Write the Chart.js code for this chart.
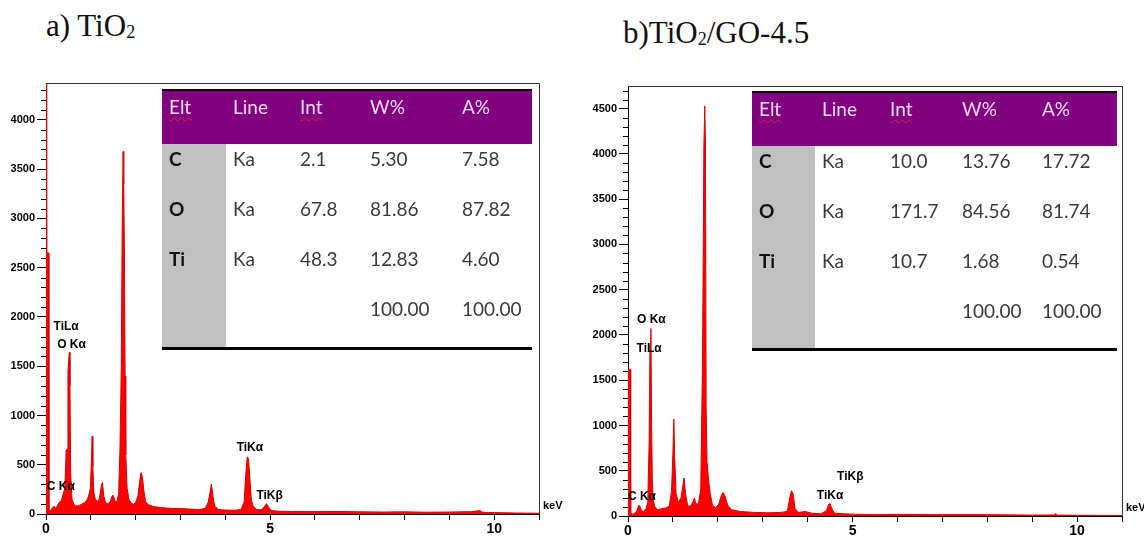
<!DOCTYPE html>
<html>
<head>
<meta charset="utf-8">
<script src="https://cdn.jsdelivr.net/npm/chart.js@4.4.1/dist/chart.umd.min.js"></script>
<style>
html, body { margin: 0; padding: 0; background: #fff; }
body { width: 1144px; height: 539px; position: relative; overflow: hidden; }
.panel { position: absolute; top: 0; width: 572px; height: 539px; }
.title { position: absolute; font-family: "Liberation Serif", "Times New Roman", serif; font-size: 31px; line-height: 31px; color: #111; white-space: nowrap; }
.title sub { font-size: 18px; vertical-align: -2px; line-height: 0; }
.eds { position: absolute; font-family: Lato, "Open Sans", sans-serif; font-size: 19px; line-height: 22px; color: #3a3a3a; border-top: 2px solid #000; border-bottom: 3px solid #000; }
.eds .row { display: flex; box-sizing: border-box; }
.eds .cell { box-sizing: border-box; height: 100%; padding-left: 7px; white-space: nowrap; }
.eds .head { background: #800080; color: #f4dcf4; }
.eds .head .cell { padding-top: 5px; }
.eds .body .cell { padding-top: 4px; }
.eds .body .cell:first-child { background: #c0c0c0; color: #111; font-weight: bold; }
.eds .spell { text-decoration: underline wavy #e0203a; text-decoration-thickness: 1px; text-underline-offset: 3px; }
</style>
</head>
<body>
<div class="title" style="left:46px; top:10px;">a) TiO<sub>2</sub></div>
<div class="title" style="left:623px; top:17px;">b)TiO<sub>2</sub>/GO-4.5</div>
<div class="panel" style="left:0;"><canvas id="tio2Chart" width="572" height="539"></canvas></div>
<div class="panel" style="left:572px;"><canvas id="goChart" width="572" height="539"></canvas></div>
<div id="tio2Table" class="eds"></div>
<div id="goTable" class="eds"></div>
<script>
// Phổ EDS của TiO2 (năng lượng keV, số đếm)
const tio2Energy = [0, 0.015, 0.055, 0.065, 0.10, 0.14, 0.18, 0.22, 0.26, 0.30, 0.34, 0.38, 0.42, 0.45, 0.47, 0.49, 0.52, 0.535, 0.55, 0.58, 0.62, 0.66, 0.70, 0.75, 0.80, 0.85, 0.90, 0.95, 0.99, 1.01, 1.03, 1.045, 1.07, 1.10, 1.14, 1.18, 1.21, 1.24, 1.26, 1.29, 1.33, 1.38, 1.43, 1.47, 1.50, 1.54, 1.58, 1.62, 1.65, 1.68, 1.70, 1.72, 1.735, 1.75, 1.765, 1.78, 1.81, 1.85, 1.90, 1.95, 2.00, 2.05, 2.09, 2.12, 2.15, 2.18, 2.22, 2.28, 2.40, 2.55, 2.70, 2.85, 3.00, 3.20, 3.40, 3.55, 3.62, 3.66, 3.69, 3.72, 3.76, 3.85, 4.00, 4.20, 4.35, 4.42, 4.46, 4.49, 4.52, 4.55, 4.58, 4.62, 4.70, 4.80, 4.87, 4.92, 4.96, 5.02, 5.20, 5.50, 6.00, 6.50, 7.00, 7.50, 8.00, 8.50, 9.00, 9.50, 9.68, 9.73, 9.80, 10.00, 10.50, 11.00];
const tio2Counts = [5000, 2650, 2650, 25, 35, 60, 80, 55, 90, 120, 130, 200, 260, 650, 660, 1450, 1640, 1300, 420, 150, 100, 85, 80, 90, 100, 115, 130, 180, 260, 500, 790, 480, 210, 150, 130, 140, 210, 300, 320, 180, 115, 105, 120, 180, 190, 130, 125, 200, 650, 1500, 2900, 3680, 3350, 2600, 1400, 600, 260, 150, 110, 100, 115, 180, 330, 420, 380, 250, 130, 95, 75, 65, 60, 55, 55, 50, 45, 55, 120, 220, 305, 200, 80, 45, 40, 38, 45, 120, 420, 580, 560, 360, 150, 80, 45, 42, 70, 105, 75, 35, 28, 25, 24, 26, 22, 20, 22, 18, 20, 24, 35, 20, 15, 14, 10, 8];

// Phổ EDS của TiO2/GO-4.5
const goEnergy = [0, 0.05, 0.06, 0.10, 0.15, 0.20, 0.24, 0.27, 0.30, 0.35, 0.40, 0.44, 0.47, 0.49, 0.51, 0.525, 0.54, 0.56, 0.59, 0.65, 0.75, 0.85, 0.92, 0.97, 1.00, 1.02, 1.04, 1.07, 1.12, 1.18, 1.22, 1.25, 1.28, 1.33, 1.40, 1.45, 1.48, 1.51, 1.57, 1.62, 1.66, 1.69, 1.71, 1.725, 1.74, 1.76, 1.79, 1.83, 1.88, 1.95, 2.02, 2.08, 2.12, 2.16, 2.22, 2.30, 2.50, 2.80, 3.10, 3.40, 3.55, 3.60, 3.64, 3.68, 3.72, 3.80, 3.95, 4.10, 4.30, 4.42, 4.47, 4.50, 4.54, 4.60, 4.80, 5.00, 5.50, 6.00, 7.00, 8.00, 9.00, 9.48, 9.52, 9.56, 10.00, 11.00];
const goCounts = [1620, 1620, 30, 20, 30, 60, 120, 100, 60, 50, 80, 150, 800, 1900, 2070, 1050, 420, 200, 110, 70, 80, 90, 110, 280, 700, 1070, 650, 250, 150, 200, 330, 420, 250, 110, 110, 160, 200, 130, 140, 300, 1750, 4100, 4530, 4100, 1200, 600, 420, 250, 120, 90, 130, 230, 260, 220, 120, 70, 50, 40, 35, 40, 50, 200, 280, 240, 80, 40, 50, 30, 25, 60, 130, 135, 80, 30, 25, 20, 15, 18, 15, 15, 10, 12, 25, 10, 8, 5];

// Nhãn vạch phổ (tên, vị trí keV, số đếm)
const tio2PeakNames = ['TiLα', 'O Kα', 'C Kα', 'TiKα', 'TiKβ'];
const tio2PeakKeV = [0.45, 0.57, 0.33, 4.55, 4.99];
const tio2PeakCounts = [1900, 1720, 277, 673, 186];
const goPeakNames = ['O Kα', 'TiLα', 'C Kα', 'TiKβ', 'TiKα'];
const goPeakKeV = [0.52, 0.47, 0.31, 4.95, 4.5];
const goPeakCounts = [2168, 1847, 210, 431, 221];

// Nhãn trục
const xTickLabels = [0, 5, 10];
const yLabelStep = 500;
const xUnit = 'keV';

// Bảng định lượng
const tableHeaders = ['Elt', 'Line', 'Int', 'W%', 'A%'];
const tableElements = ['C', 'O', 'Ti'];
const tableLines = ['Ka', 'Ka', 'Ka'];
const tio2Int = [2.1, 67.8, 48.3];
const tio2Wt = [5.30, 81.86, 12.83];
const tio2At = [7.58, 87.82, 4.60];
const goInt = [10.0, 171.7, 10.7];
const goWt = [13.76, 84.56, 1.68];
const goAt = [17.72, 81.74, 0.54];
const totalWt = 100.00;
const totalAt = 100.00;

const axisFont = '"Liberation Sans", Arial, sans-serif';
Chart.defaults.font.family = axisFont;

// Plugin vẽ khung, vạch phụ, nhãn đỉnh và đơn vị keV
const edsDecor = {
    id: 'edsDecor',
    afterDraw(chart, args, opts) {
        const { ctx, chartArea: a, scales } = chart;
        ctx.save();
        // khung trên và phải
        ctx.strokeStyle = '#333';
        ctx.lineWidth = 1;
        ctx.beginPath();
        ctx.moveTo(a.left, a.top + 0.5);
        ctx.lineTo(a.right + 0.5, a.top + 0.5);
        ctx.lineTo(a.right + 0.5, a.bottom);
        ctx.stroke();
        // vạch phụ trục y
        ctx.strokeStyle = '#000';
        ctx.beginPath();
        scales.y.ticks.forEach(t => {
            if (t.value % yLabelStep !== 0) {
                const py = Math.round(scales.y.getPixelForValue(t.value)) + 0.5;
                ctx.moveTo(a.left - 5, py);
                ctx.lineTo(a.left, py);
            }
        });
        ctx.stroke();
        // nhãn các vạch phổ
        ctx.fillStyle = '#000';
        ctx.font = 'bold 12px ' + axisFont;
        ctx.textAlign = 'center';
        ctx.textBaseline = 'middle';
        opts.names.forEach((name, i) => {
            ctx.fillText(name, scales.x.getPixelForValue(opts.keV[i]), scales.y.getPixelForValue(opts.counts[i]));
        });
        // đơn vị trục x
        ctx.textAlign = 'left';
        ctx.font = 'bold 11px ' + axisFont;
        ctx.fillText(xUnit, a.right + 4, a.bottom - 8);
        ctx.restore();
    }
};

function initializeSpectrum(canvasId, energy, counts, yMax, layout, peaks) {
    const ctx = document.getElementById(canvasId).getContext('2d');
    return new Chart(ctx, {
        type: 'line',
        data: {
            datasets: [{
                data: energy.map((e, i) => ({ x: e, y: counts[i] })),
                borderColor: '#d80000',
                backgroundColor: '#ff0000',
                borderWidth: 1,
                pointRadius: 0,
                tension: 0,
                fill: 'origin'
            }]
        },
        options: {
            responsive: false,
            animation: false,
            layout: { padding: { left: 0, top: layout.top, right: layout.right, bottom: 0 } },
            plugins: {
                legend: { display: false },
                tooltip: { enabled: false },
                edsDecor: peaks
            },
            scales: {
                x: {
                    type: 'linear',
                    min: 0,
                    max: 11,
                    ticks: {
                        stepSize: 1,
                        autoSkip: false,
                        maxRotation: 0,
                        padding: 1,
                        color: '#000',
                        font: { size: 14, weight: 'bold' },
                        callback: v => xTickLabels.includes(v) ? String(v) : ''
                    },
                    grid: { drawOnChartArea: false, tickLength: 6, tickColor: '#000' },
                    border: { color: '#000', width: 1 },
                    afterFit: s => { s.height = layout.xHeight; }
                },
                y: {
                    min: 0,
                    max: yMax,
                    ticks: {
                        stepSize: 100,
                        autoSkip: false,
                        includeBounds: false,
                        padding: 2,
                        color: '#000',
                        font: { size: 11, weight: 'bold' },
                        callback: v => v % yLabelStep === 0 ? String(v) : ''
                    },
                    grid: {
                        drawOnChartArea: false,
                        tickLength: 9,
                        tickColor: c => (c.tick && c.tick.value % yLabelStep === 0) ? '#000' : 'rgba(0,0,0,0)'
                    },
                    border: { color: '#000', width: 1 },
                    afterFit: s => { s.width = layout.yWidth; }
                }
            }
        },
        plugins: [edsDecor]
    });
}

// Dựng bảng số liệu
function buildTable(id, left, top, widths, headHeight, rowHeights, ints, wts, ats) {
    const box = document.getElementById(id);
    box.style.left = left + 'px';
    box.style.top = top + 'px';
    box.style.width = widths.reduce((s, w) => s + w, 0) + 'px';
    const cell = (text, i, cls) => `<div class="cell" style="width:${widths[i]}px">${cls ? `<span class="${cls}">${text}</span>` : text}</div>`;
    let html = `<div class="row head" style="height:${headHeight}px">` +
        tableHeaders.map((h, i) => cell(h, i, (h === 'Elt' || h === 'Int') ? 'spell' : '')).join('') + '</div>';
    tableElements.forEach((el, r) => {
        html += `<div class="row body" style="height:${rowHeights[r]}px">` +
            cell(el, 0) + cell(tableLines[r], 1) + cell(ints[r].toFixed(1), 2) +
            cell(wts[r].toFixed(2), 3) + cell(ats[r].toFixed(2), 4) + '</div>';
    });
    html += `<div class="row body" style="height:${rowHeights[3]}px">` +
        cell('', 0) + cell('', 1) + cell('', 2) + cell(totalWt.toFixed(2), 3) + cell(totalAt.toFixed(2), 4) + '</div>';
    box.innerHTML = html;
}

initializeSpectrum('tio2Chart', tio2Energy, tio2Counts, 4375,
    { top: 83, right: 33, xHeight: 25, yWidth: 46 },
    { names: tio2PeakNames, keV: tio2PeakKeV, counts: tio2PeakCounts });
initializeSpectrum('goChart', goEnergy, goCounts, 4750,
    { top: 86, right: 22, xHeight: 23, yWidth: 56 },
    { names: goPeakNames, keV: goPeakKeV, counts: goPeakCounts });

buildTable('tio2Table', 162, 89, [64, 67, 70, 92, 77], 53, [50, 50, 50, 53], tio2Int, tio2Wt, tio2At);
buildTable('goTable', 752, 91, [63, 68, 72, 80, 82], 53, [50, 50, 50, 52], goInt, goWt, goAt);
</script>
</body>
</html>
